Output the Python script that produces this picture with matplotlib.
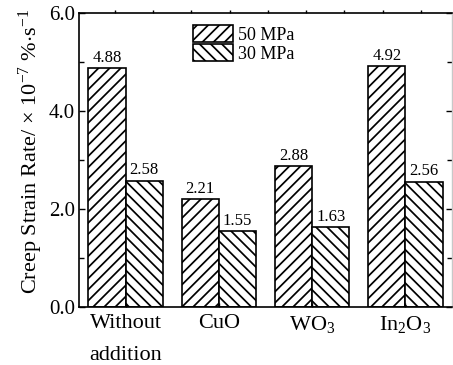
import numpy as np
import matplotlib
matplotlib.use("Agg")
import matplotlib.pyplot as plt
from matplotlib.ticker import MultipleLocator, FixedLocator

# Creep strain rate (x10^-7 %/s) for each additive under two stresses
categories = ["Without\naddition", "CuO", "WO$_3$", "In$_2$O$_3$"]
rate_50mpa = [4.88, 2.21, 2.88, 4.92]
rate_30mpa = [2.58, 1.55, 1.63, 2.56]
series_labels = ["50 MPa", "30 MPa"]
yticks = [0.0, 2.0, 4.0, 6.0]

plt.rcParams["font.family"] = ["Liberation Serif", "DejaVu Serif"]
plt.rcParams["mathtext.fontset"] = "custom"
plt.rcParams["mathtext.rm"] = "Liberation Serif"
plt.rcParams["mathtext.it"] = "Liberation Serif:italic"
plt.rcParams["mathtext.bf"] = "Liberation Serif:bold"
plt.rcParams["hatch.linewidth"] = 1.25

fig = plt.figure(figsize=(4.53, 3.65), dpi=100)
ax = fig.add_axes([79 / 453, 1 - 307 / 365, 373 / 453, 294 / 365])

x = np.arange(len(categories))
w = 0.4
b1 = ax.bar(x - w / 2, rate_50mpa, w, facecolor="white", edgecolor="black",
            hatch="///", linewidth=1.2, label=series_labels[0])
b2 = ax.bar(x + w / 2, rate_30mpa, w, facecolor="white", edgecolor="black",
            hatch="\\\\\\", linewidth=1.2, label=series_labels[1])

for bars, vals in ((b1, rate_50mpa), (b2, rate_30mpa)):
    ax.bar_label(bars, labels=[f"{v:.2f}" for v in vals], padding=1.5,
                 fontsize=12)

ax.set_xlim(-0.5, len(categories) - 0.5)
ax.set_ylim(0, 6.0)
ax.set_yticks(yticks)
ax.set_yticklabels([f"{t:.1f}" for t in yticks])
ax.yaxis.set_minor_locator(MultipleLocator(1.0))
ax.set_xticks(x)
ax.set_xticklabels(categories, linespacing=1.95)

ax.tick_params(axis="y", which="major", direction="in", length=4, width=1,
               labelsize=15, pad=3, right=True)
ax.tick_params(axis="y", which="minor", direction="in", length=3.5, width=1,
               right=True)
ax.tick_params(axis="x", which="major", direction="in", length=3, width=1,
               labelsize=16, pad=5)

for side in ("left", "bottom", "top"):
    ax.spines[side].set_linewidth(1.2)
ax.spines["right"].set_color("#c8c8c8")
ax.spines["right"].set_linewidth(1.0)
for tk in ax.yaxis.get_major_ticks() + ax.yaxis.get_minor_ticks():
    tk.tick2line.set_color("#c8c8c8")

# short outward marks along the top frame
top = ax.secondary_xaxis("top")
top.xaxis.set_major_locator(FixedLocator(np.arange(-0.114, 3.5, 0.41)))
top.tick_params(direction="out", length=2.5, width=1, labeltop=False)
top.spines["top"].set_visible(False)

ax.set_ylabel("Creep Strain Rate/$\\,\\times\\,$10$^{-7}$ %$\\cdot$s$^{-1}$",
              fontsize=16)
ax.yaxis.set_label_coords(-0.092, 0.53)

leg = ax.legend(loc="upper left", bbox_to_anchor=(0.306, 0.959),
                borderaxespad=0, borderpad=0, frameon=False, fontsize=13,
                handlelength=2.2, handleheight=1.1, labelspacing=0.0,
                handletextpad=0.3)

fig.savefig("out.png", dpi=100)
